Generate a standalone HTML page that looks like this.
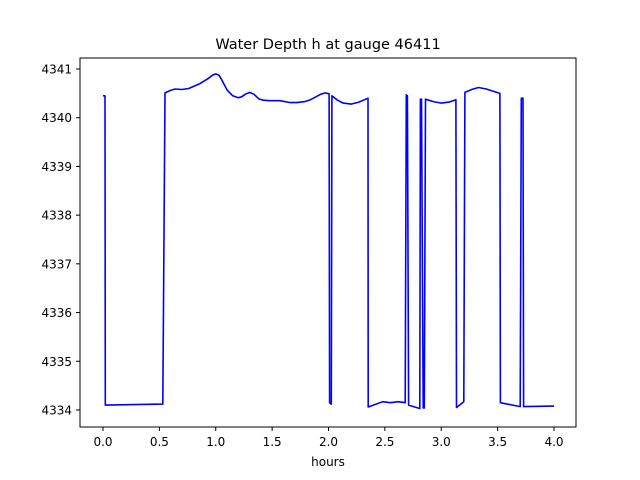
<!DOCTYPE html>
<html><head><meta charset="utf-8"><style>
body{margin:0;background:#fff}
svg{display:block;font-family:"DejaVu Sans","Liberation Sans",sans-serif}
</style></head><body>
<svg id="chart" width="640" height="480">
<rect width="640" height="480" fill="#fff"/>
<text x="328" y="49" text-anchor="middle" font-size="14.5">Water Depth h at gauge 46411</text>
<g id="plot"></g>
<rect x="80" y="58" width="496" height="369" fill="none" stroke="#000" stroke-width="1"/>
<text x="328" y="466" text-anchor="middle" font-size="12">hours</text>
</svg>
<script>
const hours = [0,0.018,0.02,0.53,0.55,0.6,0.64,0.7,0.76,0.86,0.93,0.97,1.0,1.03,1.06,1.1,1.15,1.2,1.23,1.26,1.3,1.34,1.38,1.42,1.48,1.57,1.66,1.72,1.79,1.84,1.88,1.93,1.97,2.005,2.01,2.025,2.03,2.08,2.13,2.2,2.27,2.35,2.352,2.48,2.55,2.62,2.68,2.69,2.70,2.71,2.81,2.815,2.825,2.84,2.85,2.86,2.93,3.0,3.07,3.13,3.135,3.2,3.21,3.27,3.33,3.4,3.52,3.525,3.7,3.71,3.725,3.73,4.0];
const depth = [4340.45,4340.45,4334.1,4334.12,4340.51,4340.56,4340.59,4340.58,4340.6,4340.7,4340.8,4340.87,4340.9,4340.87,4340.75,4340.57,4340.45,4340.41,4340.43,4340.48,4340.52,4340.48,4340.39,4340.36,4340.35,4340.35,4340.31,4340.31,4340.33,4340.37,4340.42,4340.48,4340.51,4340.49,4334.15,4334.12,4340.45,4340.36,4340.3,4340.28,4340.32,4340.4,4334.06,4334.17,4334.15,4334.17,4334.15,4340.47,4340.45,4334.1,4334.03,4340.38,4340.38,4334.04,4334.04,4340.38,4340.33,4340.3,4340.32,4340.37,4334.05,4334.17,4340.52,4340.58,4340.62,4340.59,4340.5,4334.15,4334.07,4340.4,4340.4,4334.07,4334.08];
const xTicks = [0.0,0.5,1.0,1.5,2.0,2.5,3.0,3.5,4.0];
const xTickLabels = ["0.0","0.5","1.0","1.5","2.0","2.5","3.0","3.5","4.0"];
const yTicks = [4334,4335,4336,4337,4338,4339,4340,4341];
const yTickLabels = ["4334","4335","4336","4337","4338","4339","4340","4341"];
const NS='http://www.w3.org/2000/svg';
const X = v => 103 + v*112.75;
const Y = v => 69 + (4341 - v)*48.71;
const g = document.getElementById('plot');
function mk(t,a){const e=document.createElementNS(NS,t);for(const k in a)e.setAttribute(k,a[k]);return e;}
xTicks.forEach((t,i)=>{
  const l=mk('line',{x1:X(t),x2:X(t),y1:427,y2:431,stroke:'#000'});
  
  
  g.appendChild(l);
  const s=mk('text',{x:X(t),y:446,'text-anchor':'middle','font-size':'12'});
  s.textContent=xTickLabels[i];
  
  
  g.appendChild(s);
});
yTicks.forEach((t,i)=>{
  const l=mk('line',{x1:76,x2:80,y1:Y(t),y2:Y(t),stroke:'#000'});
  
  
  g.appendChild(l);
  const s=mk('text',{x:72,y:Y(t)+4.5,'text-anchor':'end','font-size':'12'});
  s.textContent=yTickLabels[i];
  
  
  g.appendChild(s);
});
const pts=hours.map((h,i)=>X(h).toFixed(1)+','+Y(depth[i]).toFixed(1)).join(' ');
const pl=mk('polyline',{points:pts,fill:'none',stroke:'#0000ff','stroke-width':'1.6','stroke-linejoin':'round'});


g.appendChild(pl);
</script>
</body></html>
